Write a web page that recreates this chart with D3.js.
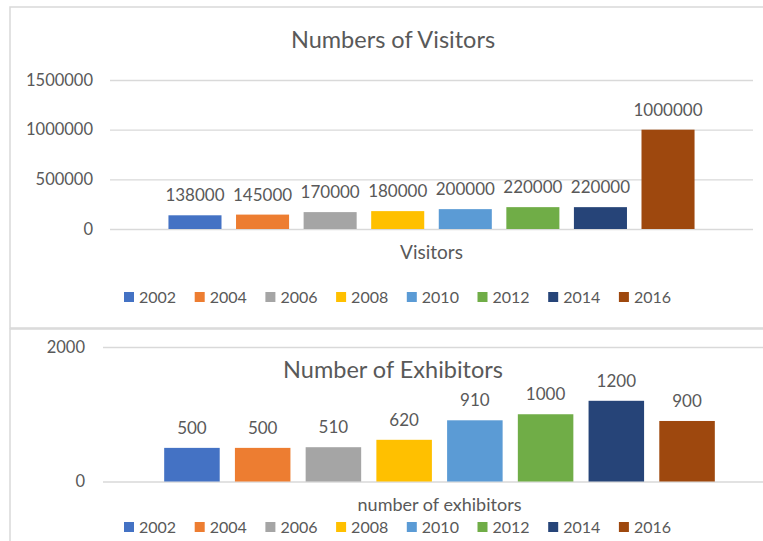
<!DOCTYPE html>
<html>
<head>
<meta charset="utf-8">
<script src="https://cdn.jsdelivr.net/npm/d3@7"></script>
<style>
  html, body { margin: 0; padding: 0; background: #fff; }
  svg { display: block; font-family: Lato, "Open Sans", sans-serif; }
</style>
</head>
<body>
<svg id="chart" width="763" height="541"></svg>
<script>
// Exhibition figures by edition year
const years = ["2002", "2004", "2006", "2008", "2010", "2012", "2014", "2016"];
const visitors = [138000, 145000, 170000, 180000, 200000, 220000, 220000, 1000000];
const exhibitors = [500, 500, 510, 620, 910, 1000, 1200, 900];
const visitorTicks = [0, 500000, 1000000, 1500000];
const exhibitorTicks = [0, 2000];
const colors = ["#4472C4", "#ED7D31", "#A5A5A5", "#FFC000", "#5B9BD5", "#70AD47", "#264478", "#9E480E"];

const svg = d3.select("#chart");
const textColor = "#595959";
const gridColor = "#D9D9D9";
const color = d3.scaleOrdinal().domain(years).range(colors);

// Chart frames
svg.append("rect").attr("x", 10).attr("y", 7).attr("width", 766).attr("height", 321)
  .attr("fill", "none").attr("stroke", gridColor).attr("stroke-width", 1.5);
svg.append("rect").attr("x", 10).attr("y", 329).attr("width", 766).attr("height", 230)
  .attr("fill", "none").attr("stroke", gridColor).attr("stroke-width", 1.5);

function drawPanel(cfg) {
  const g = svg.append("g");
  const x = d3.scaleBand().domain(years).range([cfg.left, cfg.right])
    .paddingInner(0.215).paddingOuter(0.865);
  const y = d3.scaleLinear().domain([0, cfg.max]).range([cfg.bottom, cfg.top]);

  // title
  g.append("text").attr("x", 393).attr("y", cfg.titleY)
    .attr("text-anchor", "middle").attr("fill", textColor)
    .attr("font-size", 23.5).text(cfg.title);

  // gridlines + value axis
  const axis = d3.axisLeft(y).tickValues(cfg.ticks).tickSize(-(cfg.gridRight - cfg.left))
    .tickPadding(cfg.tickPad).tickFormat(d3.format("d"));
  const ag = g.append("g").attr("transform", `translate(${cfg.left},0)`).call(axis);
  ag.select(".domain").remove();
  ag.selectAll(".tick line").attr("stroke", gridColor).attr("stroke-width", 1.3);
  ag.selectAll(".tick text").attr("fill", textColor).attr("font-size", 16.5)
    .attr("font-family", "Lato, 'Open Sans', sans-serif");

  // bars
  g.selectAll("rect.bar").data(cfg.values).join("rect").attr("class", "bar")
    .attr("x", (d, i) => x(years[i]))
    .attr("width", x.bandwidth())
    .attr("y", d => y(d))
    .attr("height", d => y(0) - y(d))
    .attr("fill", (d, i) => color(years[i]));

  // data labels
  g.selectAll("text.lbl").data(cfg.values).join("text").attr("class", "lbl")
    .attr("x", (d, i) => x(years[i]) + x.bandwidth() / 2)
    .attr("y", d => y(d) - 14)
    .attr("text-anchor", "middle").attr("fill", textColor)
    .attr("font-size", 17).text(d => d);

  // category axis title
  g.append("text").attr("x", (cfg.left + cfg.right) / 2).attr("y", cfg.catY)
    .attr("text-anchor", "middle").attr("fill", textColor)
    .attr("font-size", cfg.catSize).text(cfg.catLabel);

  // legend
  const leg = g.selectAll("g.leg").data(years).join("g").attr("class", "leg")
    .attr("transform", (d, i) => `translate(${124 + i * 70.7},${cfg.legendY})`);
  leg.append("rect").attr("x", 0).attr("y", -5).attr("width", 10).attr("height", 10)
    .attr("fill", d => color(d));
  leg.append("text").attr("x", 15).attr("y", 0).attr("dy", "0.35em")
    .attr("fill", textColor).attr("font-size", 16).text(d => d);
}

drawPanel({
  title: "Numbers of Visitors", titleY: 48,
  values: visitors, ticks: visitorTicks, max: 1500000,
  left: 110, right: 753, gridRight: 753, top: 80, bottom: 229, tickPad: 17,
  catLabel: "Visitors", catSize: 19, catY: 259, legendY: 297
});

drawPanel({
  title: "Number of Exhibitors", titleY: 378,
  values: exhibitors, ticks: exhibitorTicks, max: 2000,
  left: 103, right: 776, gridRight: 763, top: 347, bottom: 481.5, tickPad: 18,
  catLabel: "number of exhibitors", catSize: 18, catY: 511, legendY: 527
});
</script>
</body>
</html>
